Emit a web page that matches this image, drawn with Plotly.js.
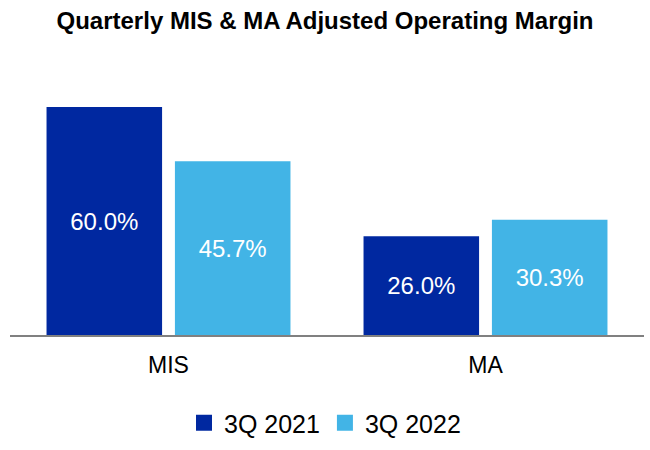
<!DOCTYPE html>
<html>
<head>
<meta charset="utf-8">
<script src="https://cdn.plot.ly/plotly-3.0.1.min.js"></script>
<style>html,body{margin:0;padding:0;background:#fff}#chart{width:650px;height:450px}</style>
</head>
<body>
<div id="chart"></div>
<script>
const categories = ["MIS", "MA"];
const seriesNames = ["3Q 2021", "3Q 2022"];
const values2021 = [60.0, 26.0];
const values2022 = [45.7, 30.3];
const colors = ["#0028A0", "#42B4E6"];

function fmt(v){ return v.toFixed(1) + "%"; }

const traces = [values2021, values2022].map((vals, i) => ({
  type: "bar",
  name: seriesNames[i],
  x: categories,
  y: vals,
  text: vals.map(fmt),
  textposition: "inside",
  insidetextanchor: "middle",
  textfont: {color: "#ffffff", size: 24, family: "Liberation Sans, Arial, sans-serif"},
  marker: {color: colors[i]},
  legendgroup: seriesNames[i],
  showlegend: false,
  hoverinfo: "none"
}));

const legendTraces = seriesNames.map((n, i) => ({
  type: "scatter",
  mode: "markers",
  name: n,
  x: [null], y: [null],
  legendgroup: n,
  marker: {symbol: "square", size: 25, color: colors[i]},
  showlegend: true,
  hoverinfo: "none"
}));

const layout = {
  width: 650, height: 450,
  margin: {l: 10, r: 6, t: 69, b: 115},
  paper_bgcolor: "#ffffff", plot_bgcolor: "#ffffff",
  font: {family: "Liberation Sans, Arial, sans-serif", color: "#000000"},
  title: {text: "<b>Quarterly MIS & MA Adjusted Operating Margin</b>", x: 0.5, xanchor: "center", y: 0.955, yanchor: "middle", font: {size: 24, color: "#000"}},
  barmode: "group",
  bargap: 0.19,
  bargroupgap: 0.1,
  xaxis: {showline: true, linecolor: "#808080", linewidth: 2, ticks: "outside", ticklen: 8, tickcolor: "rgba(0,0,0,0)", tickfont: {size: 23}, showgrid: false, fixedrange: true},
  yaxis: {range: [0, 70], visible: false, showgrid: false, zeroline: false, fixedrange: true},
  showlegend: true,
  legend: {orientation: "h", x: 0.5, xanchor: "center", xref: "container", y: 0.06, yref: "container", yanchor: "middle", font: {size: 25}, itemsizing: "trace", traceorder: "normal"}
};

Plotly.newPlot("chart", traces.concat(legendTraces), layout, {displayModeBar: false, staticPlot: true});
</script>
</body>
</html>
